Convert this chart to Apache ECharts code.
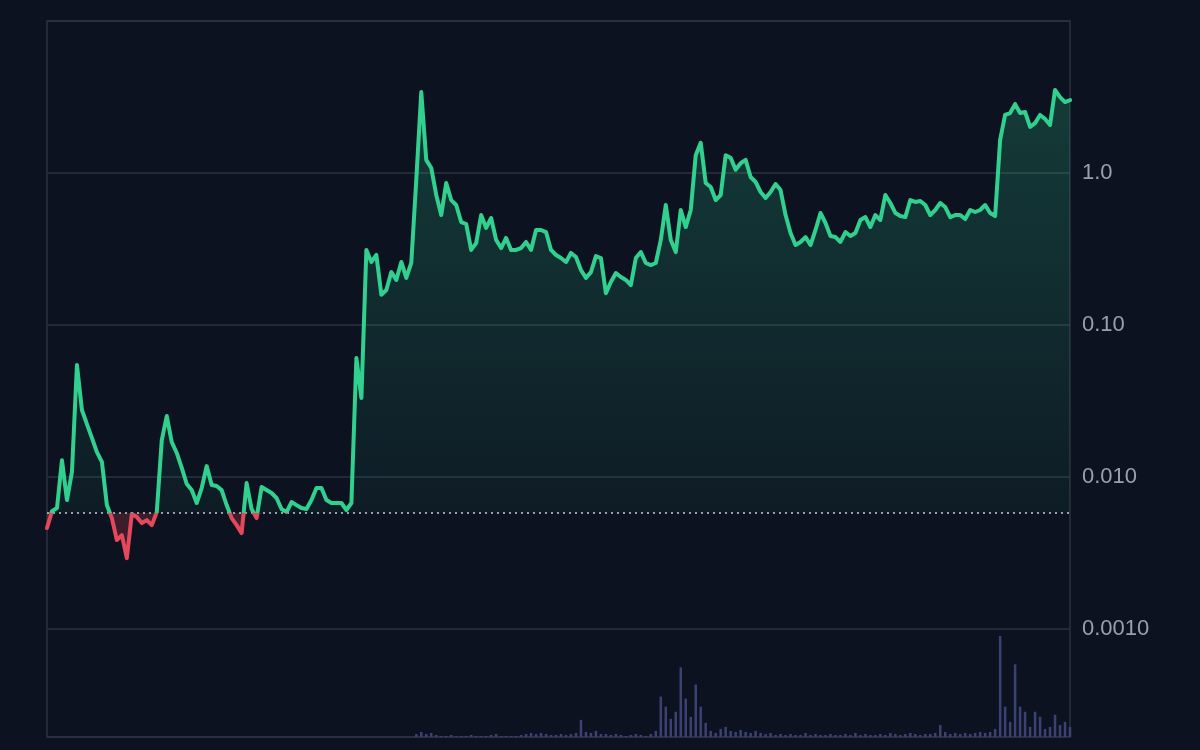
<!DOCTYPE html>
<html>
<head>
<meta charset="utf-8">
<script src="https://cdn.jsdelivr.net/npm/echarts@6/dist/echarts.min.js"></script>
<style>
html,body{margin:0;padding:0;background:#0c1220;}
#chart{width:1200px;height:750px;}
</style>
</head>
<body>
<div id="chart"></div>
<script>
// Price readings (log scale), evenly spaced in time
const prices = [
  0.00462, 0.00597, 0.00625, 0.0129, 0.00706, 0.0108, 0.0546, 0.0276, 0.0223, 0.0181,
  0.0146, 0.0126, 0.00654, 0.00537, 0.00385, 0.00415, 0.00293, 0.00571, 0.00546, 0.00498,
  0.00521, 0.00483, 0.00588, 0.0175, 0.0252, 0.0170, 0.0144, 0.0115, 0.0090, 0.00821,
  0.00675, 0.00847, 0.0118, 0.00886, 0.00873, 0.00821, 0.00654, 0.00537, 0.00483, 0.00428,
  0.00913, 0.00616, 0.00537, 0.0086, 0.00821, 0.00785, 0.00728, 0.00616, 0.00588, 0.00685,
  0.00654, 0.00625, 0.00616, 0.00706, 0.00847, 0.00847, 0.00706, 0.00675, 0.00675, 0.00675,
  0.00607, 0.00675, 0.0607, 0.0331, 0.312, 0.260, 0.289, 0.158, 0.170, 0.223,
  0.198, 0.260, 0.204, 0.256, 0.90, 3.41, 1.22, 1.08, 0.717, 0.529,
  0.860, 0.664, 0.616, 0.476, 0.462, 0.312, 0.346, 0.529, 0.435, 0.506,
  0.363, 0.321, 0.374, 0.312, 0.312, 0.321, 0.352, 0.312, 0.422, 0.422,
  0.409, 0.312, 0.289, 0.276, 0.260, 0.298, 0.280, 0.230, 0.204, 0.223,
  0.284, 0.276, 0.162, 0.192, 0.220, 0.207, 0.198, 0.183, 0.276, 0.302,
  0.256, 0.248, 0.256, 0.363, 0.616, 0.363, 0.302, 0.571, 0.441, 0.571,
  1.31, 1.58, 0.860, 0.809, 0.664, 0.717, 1.31, 1.26, 1.05, 1.16,
  1.22, 0.941, 0.873, 0.750, 0.685, 0.750, 0.847, 0.773, 0.529, 0.403,
  0.336, 0.352, 0.379, 0.336, 0.422, 0.546, 0.469, 0.385, 0.379, 0.352,
  0.409, 0.385, 0.403, 0.491, 0.513, 0.441, 0.529, 0.491, 0.717, 0.635,
  0.546, 0.521, 0.513, 0.664, 0.645, 0.654, 0.616, 0.529, 0.571, 0.635,
  0.597, 0.513, 0.529, 0.529, 0.498, 0.571, 0.554, 0.571, 0.616, 0.546,
  0.521, 1.65, 2.41, 2.48, 2.84, 2.48, 2.52, 2.01, 2.13, 2.41,
  2.27, 2.07, 3.52, 3.16, 2.93, 3.02
];

// Trading volume readings (relative units)
const volumes = [
  0, 0, 0, 0, 0, 0, 0, 0, 0, 0,
  0, 0, 0, 0, 0, 0, 0, 0, 0, 0,
  0, 0, 0, 0, 0, 0, 0, 0, 0, 0,
  0, 0, 0, 0, 0, 0, 0, 0, 0, 0,
  0, 0, 0, 0, 0, 0, 0, 0, 0, 0,
  0, 0, 0, 0, 0, 0, 0, 0, 0, 0,
  0, 0, 0, 0, 0, 0, 0, 0, 0, 0,
  0, 0, 0, 0, 3, 5, 3, 4, 2, 1,
  1, 2, 1, 1, 1, 2, 1, 1, 1, 2,
  3, 1, 1, 1, 1, 2, 3, 4, 3, 4,
  3, 2, 2, 3, 2, 3, 4, 17, 5, 4,
  6, 3, 3, 2, 3, 2, 1, 2, 3, 2,
  1, 3, 6, 40, 30, 18, 25, 69, 38, 20,
  52, 30, 14, 6, 4, 8, 10, 6, 5, 7,
  5, 4, 6, 4, 3, 4, 2, 3, 2, 3,
  2, 2, 4, 2, 3, 2, 2, 3, 2, 2,
  3, 2, 4, 2, 3, 2, 2, 3, 2, 4,
  3, 2, 3, 4, 3, 2, 3, 3, 4, 12,
  5, 3, 4, 3, 4, 3, 4, 5, 4, 5,
  8, 100, 30, 15, 72, 30, 25, 10, 25, 20,
  8, 10, 22, 12, 15, 10
];

const basePrice = 0.0058;
const yMin = 0.000195;
const yMax = 10;
const volMax = 100;

const steps = prices.map((_, i) => String(i));
const baseLine = prices.map(() => basePrice);
// prices clipped to the starting price, for the fills above / below it
const abovePart = prices.map(p => Math.max(p, basePrice));
const belowPart = prices.map(p => Math.min(p, basePrice));

const chart = echarts.init(document.getElementById('chart'), null, {renderer: 'canvas'});

function buildOption(gUp, gLine) {
  return {
    backgroundColor: '#0c1220',
    animation: false,
    grid: [
      {left: 47, right: 130, top: 21, bottom: 13, show: true, borderColor: '#2b3242', borderWidth: 1.5, backgroundColor: 'transparent'},
      {left: 47, right: 130, bottom: 13, height: 101}
    ],
    xAxis: [
      {type: 'category', data: steps, boundaryGap: false, show: false, gridIndex: 0},
      {type: 'category', data: steps, boundaryGap: false, show: false, gridIndex: 1}
    ],
    yAxis: [
      {
        type: 'log', logBase: 10, min: yMin, max: yMax, position: 'right', gridIndex: 0,
        axisLine: {show: false}, axisTick: {show: false},
        splitLine: {show: true, lineStyle: {color: '#2b3242', width: 1.5}},
        axisLabel: {
          margin: 12, color: '#9aa0ab', fontSize: 22, fontFamily: 'Liberation Sans, Arial, sans-serif',
          formatter: v => (v < 0.0009 || v > 5) ? '' : Number(v).toPrecision(2)
        }
      },
      {type: 'value', min: 0, max: volMax, show: false, gridIndex: 1}
    ],
    series: [
      {
        type: 'line', data: abovePart, symbol: 'none', silent: true, z: 1,
        lineStyle: {width: 0},
        areaStyle: {origin: basePrice, color: gUp}
      },
      {
        type: 'line', data: belowPart, symbol: 'none', silent: true, z: 1,
        lineStyle: {width: 0},
        areaStyle: {origin: basePrice, color: 'rgba(229,72,90,0.32)'}
      },
      {
        type: 'line', data: baseLine, symbol: 'none', silent: true, z: 2,
        lineStyle: {color: '#c9cdd5', type: [2, 4], width: 1.5}
      },
      {
        type: 'line', data: prices, symbol: 'none', z: 3,
        lineStyle: {width: 4, join: 'round', cap: 'round', color: gLine}
      },
      {
        type: 'bar', data: volumes, xAxisIndex: 1, yAxisIndex: 1, barWidth: 2.5,
        itemStyle: {color: '#3b4272'}, silent: true, z: 2
      }
    ]
  };
}

chart.setOption(buildOption('rgba(0,0,0,0)', '#31d08f'));

const topY = chart.convertToPixel({yAxisIndex: 0}, yMax);
const botY = chart.convertToPixel({yAxisIndex: 0}, yMin);
const baseY = chart.convertToPixel({yAxisIndex: 0}, basePrice);
const t = (baseY - topY) / (botY - topY);

const gUp = {
  type: 'linear', global: true, x: 0, y: topY, x2: 0, y2: baseY,
  colorStops: [
    {offset: 0, color: 'rgba(49,208,143,0.35)'},
    {offset: 1, color: 'rgba(49,208,143,0.07)'}
  ]
};
const gLine = {
  type: 'linear', global: true, x: 0, y: topY, x2: 0, y2: botY,
  colorStops: [
    {offset: 0, color: '#31d08f'},
    {offset: t, color: '#31d08f'},
    {offset: t, color: '#e5485a'},
    {offset: 1, color: '#e5485a'}
  ]
};

chart.setOption(buildOption(gUp, gLine));
</script>
</body>
</html>
